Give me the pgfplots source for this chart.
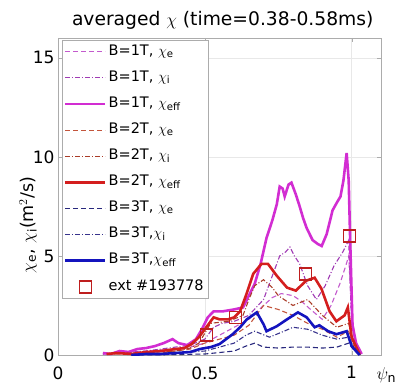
\documentclass[border=0pt]{standalone}
\usepackage{fontspec}
\setmainfont{DejaVu Sans}
\usepackage{amsmath}
\usepackage{pgfplots}
\pgfplotsset{compat=1.18}
\definecolor{magS}{RGB}{210,45,210}
\definecolor{magD}{RGB}{195,90,205}
\definecolor{magDD}{RGB}{160,60,180}
\definecolor{redS}{RGB}{212,30,30}
\definecolor{redD}{RGB}{195,85,60}
\definecolor{redDD}{RGB}{170,60,40}
\definecolor{bluS}{RGB}{20,20,190}
\definecolor{bluD}{RGB}{40,40,125}
\definecolor{bluDD}{RGB}{55,50,140}
\definecolor{sqR}{RGB}{190,30,30}
\begin{document}
\begin{tikzpicture}
\begin{axis}[
  scale only axis, width=323pt, height=317pt,
  xmin=0, xmax=1.1, ymin=0, ymax=16,
  xtick={0,0.5,1}, ytick={0,5,10,15},
  grid=major, major grid style={draw=gray!18},
  axis line style={draw=gray!65},
  tick style={draw=gray!65},
  tick align=inside, major tick length=4pt,
  ticklabel style={font=\fontsize{17}{20}\selectfont},
  xticklabel style={yshift=-8pt},
  /pgf/number format/assume math mode=true,
  title={averaged $\chi$ (time=0.38-0.58ms)},
  title style={font=\fontsize{18.7}{22}\selectfont, at={(axis description cs:0.51,1)}, anchor=south, yshift=-1pt},
  xlabel={$\psi_{\text{n}}$},
  xlabel style={font=\fontsize{18}{20}\selectfont, at={(axis description cs:1.0,0)}, anchor=north west, yshift=-9pt, xshift=-8pt},
  ylabel={$\chi_{\text{e}}$, $\chi_{\text{i}}$(m$^2$/s)},
  ylabel style={font=\fontsize{17.5}{20}\selectfont, at={(axis description cs:-0.093,0.41)}, anchor=center},
  legend cell align=left,
  legend image code/.code={\draw[mark repeat=2,mark phase=2,#1] plot coordinates {(0pt,0pt)(20pt,0pt)(40pt,0pt)};},
  legend style={at={(axis description cs:0.012,0.994)}, anchor=north west,
    font=\fontsize{14.5}{17}\selectfont, draw=gray!65, row sep=10.6pt,
    inner xsep=2pt, inner ysep=4pt,
    nodes={inner xsep=2pt, inner ysep=0pt, text height=11pt, text depth=4.5pt}},
]
% B=1T chi_e
\addplot[magD, line width=1.1pt, dash pattern=on 5pt off 3pt] coordinates {
(0.153,0.05)(0.2,0.1)(0.25,0.15)(0.3,0.2)(0.35,0.25)(0.4,0.3)(0.45,0.4)(0.5,0.6)(0.55,1.0)(0.6,1.4)(0.65,1.8)(0.7,2.5)(0.73,2.9)(0.76,3.1)(0.8,3.0)(0.83,2.7)(0.86,2.3)(0.9,1.8)(0.93,2.5)(0.96,3.6)(0.98,4.5)(0.99,5.0)(1.0,2.0)(1.015,0.6)(1.03,0.0)};
\addlegendentry{B=1T, $\chi_{\text{e}}$}
% B=1T chi_i
\addplot[magDD, line width=1.1pt, dash pattern=on 5pt off 2pt on 1pt off 2pt] coordinates {
(0.153,0.05)(0.2,0.1)(0.25,0.15)(0.3,0.2)(0.35,0.3)(0.4,0.4)(0.45,0.5)(0.5,0.8)(0.53,1.4)(0.56,1.6)(0.6,1.7)(0.65,2.0)(0.7,2.8)(0.73,4.0)(0.755,5.0)(0.775,5.2)(0.79,5.45)(0.805,5.0)(0.823,4.6)(0.85,3.5)(0.88,2.8)(0.91,3.5)(0.94,4.5)(0.97,5.2)(0.99,5.8)(1.0,1.5)(1.015,0.5)(1.03,0.0)};
\addlegendentry{B=1T, $\chi_{\text{i}}$}
% B=1T chi_eff
\addplot[magS, line width=2.6pt] coordinates {
(0.153,0.1)(0.18,0.05)(0.21,0.2)(0.24,0.15)(0.27,0.3)(0.30,0.35)(0.33,0.45)(0.36,0.6)(0.39,0.8)(0.41,0.6)(0.44,0.5)(0.47,0.8)(0.49,1.3)(0.51,1.9)(0.53,2.2)(0.56,2.2)(0.60,2.3)(0.63,2.4)(0.65,3.0)(0.67,3.6)(0.69,4.6)(0.71,5.9)(0.73,6.8)(0.745,7.6)(0.755,8.5)(0.765,8.4)(0.772,8.0)(0.785,8.6)(0.795,8.7)(0.81,8.1)(0.823,7.5)(0.835,6.9)(0.847,6.4)(0.867,5.8)(0.885,5.6)(0.898,5.5)(0.915,6.1)(0.935,7.3)(0.95,7.7)(0.962,8.0)(0.972,8.8)(0.983,10.2)(0.99,8.8)(0.995,5.8)(1.003,1.5)(1.015,0.6)(1.034,0.05)};
\addlegendentry{B=1T, $\chi_{\text{eff}}$}
% B=2T chi_e
\addplot[redD, line width=1.1pt, dash pattern=on 5pt off 3pt] coordinates {
(0.166,0.05)(0.25,0.05)(0.35,0.1)(0.45,0.3)(0.5,0.6)(0.55,0.8)(0.6,1.0)(0.65,1.5)(0.7,2.5)(0.75,2.3)(0.8,2.0)(0.85,1.6)(0.9,1.3)(0.95,0.9)(0.99,1.2)(1.01,0.3)(1.03,0.0)};
\addlegendentry{B=2T, $\chi_{\text{e}}$}
% B=2T chi_i
\addplot[redDD, line width=1.1pt, dash pattern=on 5pt off 2pt on 1pt off 2pt] coordinates {
(0.166,0.05)(0.25,0.1)(0.32,0.15)(0.4,0.2)(0.45,0.35)(0.48,0.6)(0.52,1.6)(0.55,1.65)(0.58,1.7)(0.63,2.0)(0.65,2.8)(0.67,3.5)(0.7,3.8)(0.73,3.4)(0.75,3.0)(0.8,2.5)(0.85,2.8)(0.9,2.0)(0.95,1.4)(0.99,1.6)(1.01,0.4)(1.03,0.0)};
\addlegendentry{B=2T, $\chi_{\text{i}}$}
% B=2T chi_eff
\addplot[redS, line width=2.6pt] coordinates {
(0.166,0.05)(0.2,0.1)(0.25,0.05)(0.3,0.15)(0.35,0.2)(0.40,0.3)(0.43,0.35)(0.455,0.55)(0.48,0.9)(0.50,1.3)(0.52,1.7)(0.53,1.9)(0.55,1.8)(0.58,1.8)(0.60,1.9)(0.62,2.2)(0.64,3.0)(0.665,4.1)(0.693,4.6)(0.715,4.6)(0.745,4.0)(0.78,3.4)(0.81,3.25)(0.845,3.75)(0.874,3.9)(0.897,3.35)(0.925,2.2)(0.948,1.7)(0.976,2.0)(0.987,2.4)(1.0,0.9)(1.027,0.05)};
\addlegendentry{B=2T, $\chi_{\text{eff}}$}
% B=3T chi_e
\addplot[bluD, line width=1.1pt, dash pattern=on 5pt off 3pt] coordinates {
(0.25,0.0)(0.4,0.02)(0.5,0.05)(0.6,0.2)(0.64,0.45)(0.67,0.6)(0.7,0.4)(0.75,0.35)(0.8,0.4)(0.85,0.4)(0.9,0.35)(0.95,0.4)(0.99,0.6)(1.01,0.2)(1.03,0.0)};
\addlegendentry{B=3T, $\chi_{\text{e}}$}
% B=3T chi_i
\addplot[bluDD, line width=1.1pt, dash pattern=on 5pt off 2pt on 1pt off 2pt] coordinates {
(0.25,0.02)(0.4,0.1)(0.5,0.2)(0.6,0.6)(0.64,1.0)(0.67,1.2)(0.72,0.9)(0.77,1.2)(0.8,1.4)(0.85,1.3)(0.9,1.0)(0.95,0.8)(0.99,0.9)(1.01,0.3)(1.03,0.0)};
\addlegendentry{B=3T,$\chi_{\text{i}}$}
% B=3T chi_eff
\addplot[bluS, line width=2.6pt] coordinates {
(0.25,0.0)(0.3,0.05)(0.35,0.05)(0.40,0.1)(0.45,0.15)(0.483,0.3)(0.52,0.4)(0.55,0.55)(0.595,1.05)(0.62,1.4)(0.643,1.8)(0.677,2.15)(0.7,1.55)(0.71,1.2)(0.745,1.45)(0.78,1.8)(0.817,2.15)(0.847,1.9)(0.874,1.4)(0.89,1.5)(0.92,1.2)(0.948,1.05)(0.983,1.2)(1.0,0.45)(1.027,0.0)};
\addlegendentry{B=3T,$\chi_{\text{eff}}$}
% ext
\addplot[only marks, mark=square, mark size=6pt, sqR, line width=1.5pt] coordinates {
(0.506,1.0)(0.605,1.9)(0.843,4.1)(0.993,6.0)};
\addlegendentry{ext \#193778}
\end{axis}
\pgfresetboundingbox
\path[use as bounding box] (-58pt,-35pt) rectangle (340pt,355pt);
\end{tikzpicture}
\end{document}
